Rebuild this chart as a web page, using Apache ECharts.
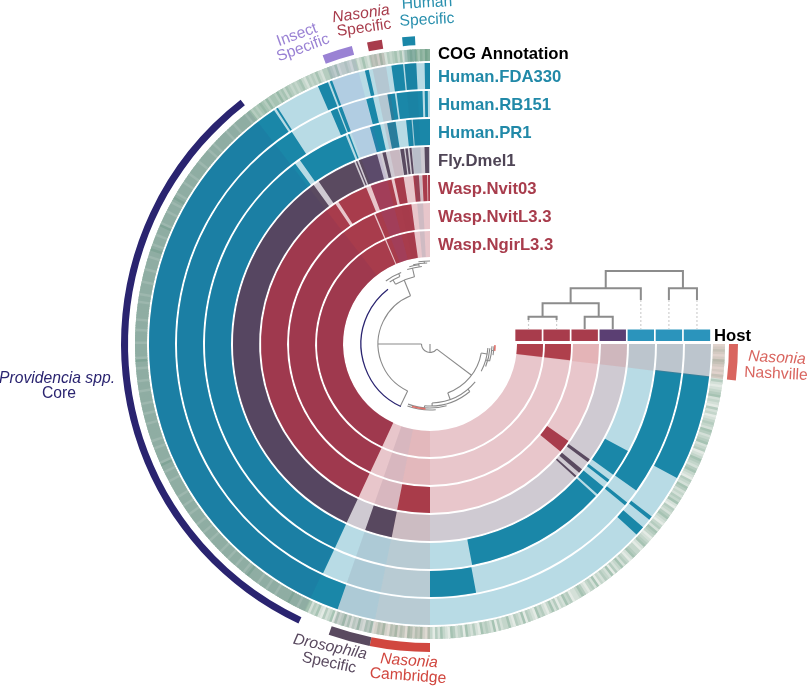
<!DOCTYPE html>
<html><head><meta charset="utf-8">
<style>html,body{margin:0;padding:0;background:#fff}#c{width:810px;height:686px}</style>
<script src="https://cdn.jsdelivr.net/npm/echarts@6/dist/echarts.min.js"></script>
</head><body><div id="c"></div>
<script>
// ---- data: gene-cluster presence spans per genome, in degrees clockwise from 12 o'clock
const layerNames = ["Wasp.NgirL3.3","Wasp.NvitL3.3","Wasp.Nvit03","Fly.Dmel1","Human.PR1","Human.RB151","Human.FDA330"];
const spanNgir = [[90,96.6],[205,336.6],[337.2,352]];
const spanNvitL = [[90,96.6],[205,336.6],[337.2,352.4]];
const spanNvit03 = [[125,129.5],[180,191.2],[205,326],[327.2,337.8],[339.5,346.8],[347.8,351],[354.3,356.2],[357.4,359],[359.3,360]];
const spanFly = [[125.8,126.8],[129.5,130.8],[132,132.6],[191.2,199.2],[205,323.8],[325.6,337.4],[337.9,338.3],[338.8,344.4],[346,347],[351.3,352.4],[352.8,353.5],[354,354.6],[358.4,359.7]];
const spanPR1 = [[118.4,125.5],[127.1,127.9],[129.5,131.9],[132.5,169.2],[205,323.2],[324.7,338],[338.6,339],[344.5,347.2],[349,351.2],[353.9,355.3],[355.6,360]];
const spanRB151 = [[96.6,125.4],[128.8,129.6],[169.5,180],[205,326.9],[336.9,338.5],[338.8,339.6],[345.4,347],[350.3,352],[352.4,358.3],[358.8,359.5]];
const spanFDA330 = [[96.6,118.5],[127.9,128.7],[130.7,132.7],[199.2,326.3],[326.8,327.2],[336.5,338.7],[339.1,339.6],[346.6,347.4],[352.1,354.5],[354.8,357.2],[358.9,360]];
const layerSpans = [spanNgir,spanNvitL,spanNvit03,spanFly,spanPR1,spanRB151,spanFDA330];
// selected clades: name, from, to
const cladeNames = ["Nasonia Nashville","Nasonia Cambridge","Drosophila Specific","Providencia spp. Core","Insect Specific","Nasonia Specific","Human Specific"];
const cladeFrom = [90,180,191.3,205.2,339.6,348.2,354.8];
const cladeTo = [96.8,191.3,199.2,322.2,345.3,351,357.2];
// COG annotation density, one digit per half degree from 90 to 360 degrees
const cogRows = [
"123212432121324212345232142312","343254234523412354324532143254","232435214324532134254312345213",
"345213425324152342315243124532","214352314253124351234152341253","324152343512423514324512352413",
"412534245134253412534215341252","31425324153241253425" + "6665666766",
"666566656665666676566656665666","566666566656665666656665666566","666656665667566666566566666656",
"665666566665666566665667566666","566665666566666656656666566665","666656676566656667566665666567",
"656666566656666656666656656666","66566656666656" + "6454565464554645",
"354343453243435324454352334324","423532434253243453524676757687"];
// tree branches of the gene-cluster dendrogram
const treeArcs = [[8.5,127,270],[52,205.5,338],[52,100,160],[59,130,178],[62,140,185],[64,165,200],[66,175,200],
[58,94,118],[60,94,112],[62,92,106],[64,92,100],[69,330,347],[74,327,336],[77,325,338],[78,343,354],[80,345,352],[81,348,358],[83,352,360]];
const treeRadials = [[270,8.5,52],[127,8.5,52],[180,0,8.5],[205.5,52,69],[338,52,69],[160,52,59],[178,59,62],[185,62,64],[140,59,62],[100,52,58],[106,58,62],[96,62,64],[347,69,78],[330,69,74],[336,74,77],[352,78,81],[356,81,83]];
const treeCore = [[69,205,322.5]];
const treeTips = [[65,91,96],[65,184,196]];
// sample dendrogram above the Host row: from, to, height, drop at from, drop at to, dotted-to at from, dotted-to at to
const sampleLinks = [[.5,1.5,25.3,22,22,13,13],[2.5,3.5,25.3,13,13,0,0],[1,3,38.7,25.3,25.3,0,0],[2,4.5,53.7,38.7,42,0,13],[5.5,6.5,53.7,42,42,13,13],[3.25,6,71,53.7,53.7,0,0]];
const hostCats = ["Wasp","Wasp","Wasp","Fly","Human","Human","Human"];
const layerLabels = ["COG Annotation","Human.FDA330","Human.RB151","Human.PR1","Fly.Dmel1","Wasp.Nvit03","Wasp.NvitL3.3","Wasp.NgirL3.3"];

// ---- styling
const C = {cx:430,cy:344,teal:'#1a87a8',tealL:'#b8dbe5',fly:'#5a4a60',flyL:'#cfcad2',wasp:'#a83c4c',waspL:'#e8c6cb',navy:'#2a2470',grey:'#8a8a8a'};
const layerColors = [[C.wasp,C.waspL],[C.wasp,C.waspL],[C.wasp,C.waspL],[C.fly,C.flyL],[C.teal,C.tealL],[C.teal,C.tealL],[C.teal,C.tealL]];
const hostColor = {Wasp:'#a83c4c',Fly:'#5b3f73',Human:'#2b94bc'};
const cladeTint = ['rgba(210,90,80,.16)','rgba(190,70,60,.10)','rgba(80,60,90,.10)','rgba(40,30,110,.07)','rgba(120,90,210,.10)','rgba(160,60,70,.12)','rgba(30,110,140,.12)'];
const cladeBar = ['#d9655f','#d1473f','#5a4a60',C.navy,'#9a82d4',C.wasp,C.teal];
const ringOuter = i => 113 + 28*i, ringInner = i => 87 + 28*i;

// rows: r0, r, from, to, colour
const sectors = [];
layerSpans.forEach((sp,i)=>{
  sectors.push([ringInner(i),ringOuter(i),90,360,layerColors[i][1]]);
  sp.forEach(s=>sectors.push([ringInner(i),ringOuter(i),s[0],s[1],layerColors[i][0]]));
});
sectors.push([283,295,90,360,'#d5e3da']);
cogRows.join('').split('').forEach((d,k)=>{
  const t=+d/9, a=90+k*0.5;
  const c=`rgb(${Math.round(242-137*t)},${Math.round(244-89*t)},${Math.round(240-110*t)})`;
  sectors.push([283,295,a,Math.min(a+0.8,360),c]);
});
cladeFrom.forEach((f,j)=>{
  for(let i=0;i<7;i++) sectors.push([ringInner(i),ringOuter(i),f,cladeTo[j],cladeTint[j]]);
  sectors.push([283,295,f,cladeTo[j],cladeTint[j]]);
  const rr = j===3?[302,309]:[299,308];
  sectors.push([rr[0],rr[1],f,cladeTo[j],cladeBar[j]]);
});

function renderSector(params,api){
  const r0=api.value(0), r=api.value(1), a=api.value(2), b=api.value(3);
  const cs=params.coordSys;
  const p0=api.coord([r0,a]), p1=api.coord([r,a]), p2=api.coord([r,b]);
  const cx=cs.cx, cy=cs.cy;
  const rad0=Math.hypot(p0[0]-cx,p0[1]-cy), rad1=Math.hypot(p1[0]-cx,p1[1]-cy);
  return {type:'sector',shape:{cx,cy,r0:rad0,r:rad1,startAngle:Math.atan2(p1[1]-cy,p1[0]-cx),endAngle:Math.atan2(p2[1]-cy,p2[0]-cx),clockwise:true},
    style:{fill:sectors[params.dataIndex][4]},silent:true};
}
// tree rows: kind, a, b, c, colour, width
const tree=[];
treeArcs.forEach(t=>tree.push([0,t[0],t[1],t[2],C.grey,1.1]));
treeRadials.forEach(t=>tree.push([1,t[1],t[2],t[0],C.grey,1.1]));
treeCore.forEach(t=>tree.push([0,t[0],t[1],t[2],C.navy,1.3]));
treeTips.forEach(t=>tree.push([0,t[0],t[1],t[2],'#e0706a',1.6]));
function renderTree(params,api){
  const row=tree[params.dataIndex], cs=params.coordSys, cx=cs.cx, cy=cs.cy;
  const st={stroke:row[4],lineWidth:row[5],fill:null};
  if(row[0]===0){
    const p1=api.coord([row[1],row[2]]),p2=api.coord([row[1],row[3]]);
    return {type:'arc',shape:{cx,cy,r:Math.hypot(p1[0]-cx,p1[1]-cy),startAngle:Math.atan2(p1[1]-cy,p1[0]-cx),endAngle:Math.atan2(p2[1]-cy,p2[0]-cx),clockwise:true},style:st,silent:true};
  }
  const p1=api.coord([row[1],row[3]]),p2=api.coord([row[2],row[3]]);
  return {type:'line',shape:{x1:p1[0],y1:p1[1],x2:p2[0],y2:p2[1]},style:st,silent:true};
}
function renderLink(params,api){
  const l=sampleLinks[params.dataIndex];
  const P=(x,y)=>api.coord([x,y]);
  const st={stroke:'#8c8c8c',lineWidth:2,fill:null,lineCap:'butt'};
  const dot={stroke:'#cfcfcf',lineWidth:1.2,lineDash:[2,2],fill:null};
  const kids=[{type:'polyline',shape:{points:[P(l[0],l[3]),P(l[0],l[2]),P(l[1],l[2]),P(l[1],l[4])]},style:st}];
  if(l[5]) kids.push({type:'line',shape:{x1:P(l[0],l[3])[0],y1:P(l[0],l[3])[1],x2:P(l[0],l[5])[0],y2:P(l[0],l[5])[1]},style:dot});
  if(l[6]) kids.push({type:'line',shape:{x1:P(l[1],l[4])[0],y1:P(l[1],l[4])[1],x2:P(l[1],l[6])[0],y2:P(l[1],l[6])[1]},style:dot});
  return {type:'group',children:kids,silent:true};
}
function renderHost(params,api){
  const i=params.dataIndex;
  const a=api.coord([i+.03,12.5]), b=api.coord([i+.97,1]);
  return {type:'rect',shape:{x:a[0],y:a[1],width:b[0]-a[0],height:b[1]-a[1]},style:{fill:hostColor[hostCats[i]]},silent:true};
}
const F='"Liberation Sans",Arial,sans-serif';
const labelColor=['#000','#2189a8','#2189a8','#2189a8','#4f4556','#a83c4c','#a83c4c','#a83c4c'];
const graphics=layerLabels.map((t,i)=>({type:'text',x:438,y:i?77+28*(i-1):54,silent:true,
  style:{text:t,fill:labelColor[i],font:'bold 16.7px '+F,verticalAlign:'middle'}}));
const T=(text,x,y,rot,fill,italic)=>({type:'text',x,y,rotation:-rot*Math.PI/180,silent:true,
  style:{text,fill,align:'center',verticalAlign:'middle',font:(italic?'italic ':'')+'15.7px '+F}});
graphics.push(
  {type:'text',x:714,y:336,silent:true,style:{text:'Host',fill:'#000',font:'bold 16.7px '+F,verticalAlign:'middle'}},
  T('Insect',297,35,-20,'#9a82d4'),T('Specific',303,48,-20,'#9a82d4'),
  T('Nasonia',361,14,-8,C.wasp,true),T('Specific',364,28,-8,C.wasp),
  T('Human',427,3,-3,'#2a90ae'),T('Specific',427,20,-3,'#2a90ae'),
  T('Providencia spp.',57,379,0,C.navy,true),T('Core',59,394,0,C.navy),
  T('Nasonia',777,358,3,'#d9655f',true),T('Nashville',776,374,3,'#d9655f'),
  T('Drosophila',330,647,12,'#5a4a60',true),T('Specific',329,663,12,'#5a4a60'),
  T('Nasonia',409,661,4,'#d1473f',true),T('Cambridge',408,676,4,'#d1473f')
);
const chart=echarts.init(document.getElementById('c'),null,{renderer:'canvas'});
chart.setOption({
  animation:false,
  polar:{center:[C.cx,C.cy],radius:[0,320]},
  angleAxis:{type:'value',min:0,max:360,startAngle:90,clockwise:true,show:false},
  radiusAxis:{type:'value',min:0,max:320,show:false},
  grid:{left:514.5,width:196.5,top:270,height:72},
  xAxis:{type:'value',min:0,max:7,show:false},
  yAxis:{type:'value',min:0,max:72,show:false},
  series:[
    {type:'custom',coordinateSystem:'polar',renderItem:renderSector,data:sectors.map(s=>s.slice(0,4)),encode:{radius:1,angle:3},clip:false},
    {type:'custom',coordinateSystem:'polar',renderItem:renderTree,data:tree.map(t=>t.slice(1,4)),encode:{radius:0,angle:1},clip:false},
    {type:'custom',coordinateSystem:'cartesian2d',renderItem:renderLink,data:sampleLinks.map(l=>l.slice(0,3)),encode:{x:0,y:2},clip:false},
    {type:'custom',coordinateSystem:'cartesian2d',renderItem:renderHost,data:hostCats.map((c,i)=>[i,6]),encode:{x:0,y:1},clip:false}
  ],
  graphic:graphics
});
</script></body></html>
